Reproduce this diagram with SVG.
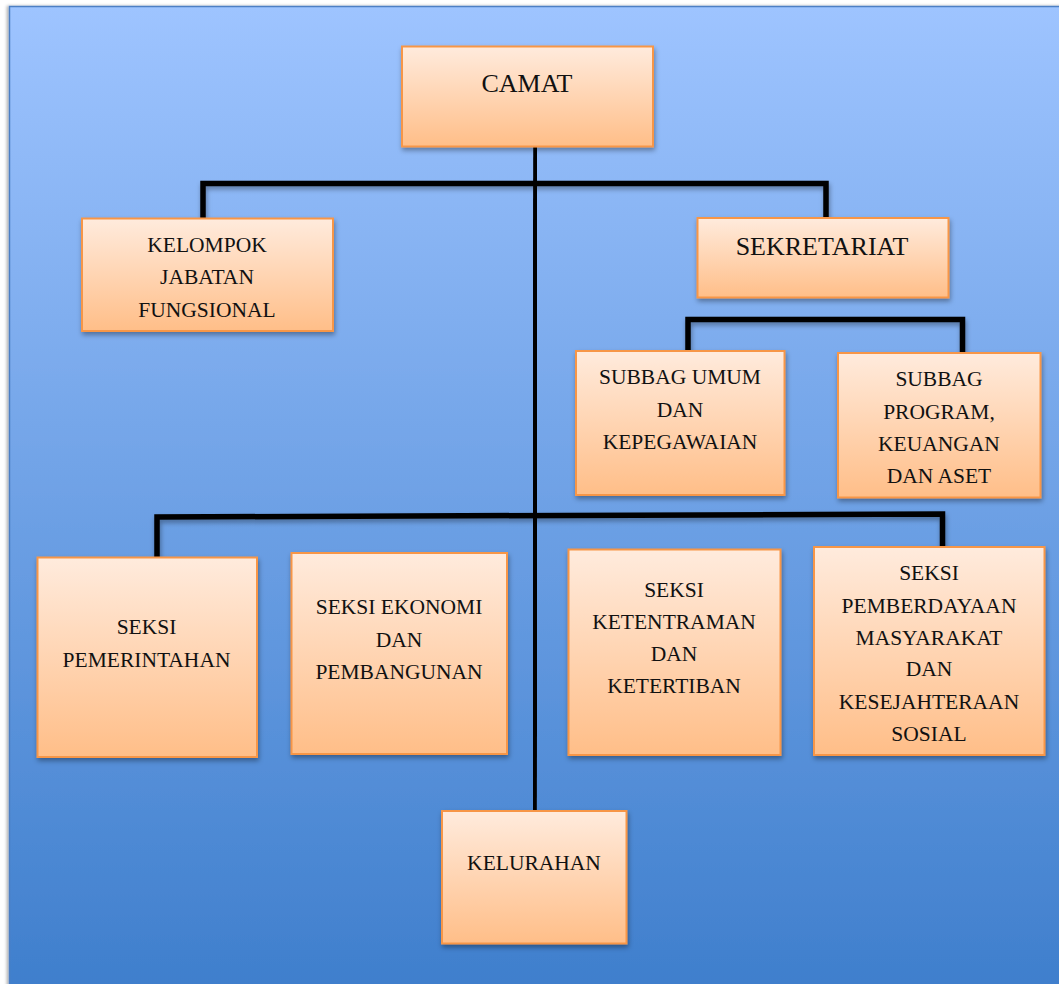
<svg xmlns="http://www.w3.org/2000/svg" width="1059" height="984" viewBox="0 0 1059 984">
  <defs>
    <linearGradient id="bg" x1="0" y1="0" x2="0" y2="1">
      <stop offset="0" stop-color="#9ec4ff"/>
      <stop offset="1" stop-color="#3e7ecc"/>
    </linearGradient>
    <linearGradient id="box" x1="0" y1="0" x2="0" y2="1">
      <stop offset="0" stop-color="#ffebdd"/>
      <stop offset="1" stop-color="#ffbe88"/>
    </linearGradient>
    <filter id="sh" x="-10%" y="-10%" width="130%" height="130%">
      <feDropShadow dx="1" dy="3" stdDeviation="2.5" flood-color="#000" flood-opacity="0.35"/>
    </filter>
    <filter id="bgsh" x="-5%" y="-5%" width="110%" height="110%">
      <feDropShadow dx="-2" dy="0" stdDeviation="1.5" flood-color="#000" flood-opacity="0.3"/>
    </filter>
  </defs>
  <style>
    .node rect { fill: url(#box); stroke: #f79646; stroke-width: 2; filter: url(#sh); }
    .node text { font-family: "Liberation Serif", "Times New Roman", serif; font-size: 21.5px; fill: #111; text-anchor: middle; }
    .node text.big { font-size: 26px; }
    .conn { stroke: #000; stroke-width: 5.5; fill: none; stroke-linecap: square; stroke-linejoin: miter; filter: url(#sh); }
  </style>

  <rect x="0" y="0" width="1059" height="984" fill="#ffffff"/>
  <rect x="9.5" y="6.5" width="1060" height="990" fill="url(#bg)" stroke="#4d7fc4" stroke-width="1.5" filter="url(#bgsh)"/>

  <g id="connectors">
    <path class="conn" d="M536 148 L534 809"/>
    <path class="conn" d="M203 217 L203 183.5 L826 183.5 L826 216"/>
    <path class="conn" d="M828 299 L828 319.5"/>
    <path class="conn" d="M688 350 L688 319.5 L962.5 319.5 L962.5 352"/>
    <path class="conn" d="M157 556 L157 517 L942.5 514 L942.5 545"/>
    <path class="conn" d="M410 552 L410 516.5"/>
    <path class="conn" d="M678.5 548 L678.5 515"/>
  </g>

  <g id="camat" class="node">
    <rect x="402" y="46.5" width="251" height="100"/>
    <text class="big" x="527" y="91.5">CAMAT</text>
  </g>

  <g id="kelompok" class="node">
    <rect x="82" y="218.5" width="251" height="112.5"/>
    <text x="207" y="251.5">KELOMPOK</text>
    <text x="207" y="284">JABATAN</text>
    <text x="207" y="316.5">FUNGSIONAL</text>
  </g>

  <g id="sekretariat" class="node">
    <rect x="697.5" y="218" width="251" height="79.5"/>
    <text class="big" x="822" y="255">SEKRETARIAT</text>
  </g>

  <g id="subbag-umum" class="node">
    <rect x="576" y="351" width="208.5" height="144"/>
    <text x="680" y="384">SUBBAG UMUM</text>
    <text x="680" y="416.5">DAN</text>
    <text x="680" y="449">KEPEGAWAIAN</text>
  </g>

  <g id="subbag-program" class="node">
    <rect x="838" y="353" width="202.5" height="144.5"/>
    <text x="939" y="386">SUBBAG</text>
    <text x="939" y="419">PROGRAM,</text>
    <text x="939" y="450.5">KEUANGAN</text>
    <text x="939" y="483">DAN ASET</text>
  </g>

  <g id="seksi-pemerintahan" class="node">
    <rect x="37.5" y="557.5" width="219.5" height="199.5"/>
    <text x="146.5" y="633.5">SEKSI</text>
    <text x="146.5" y="667">PEMERINTAHAN</text>
  </g>

  <g id="seksi-ekonomi" class="node">
    <rect x="291.5" y="553" width="215.5" height="201"/>
    <text x="399" y="614">SEKSI EKONOMI</text>
    <text x="399" y="647">DAN</text>
    <text x="399" y="679">PEMBANGUNAN</text>
  </g>

  <g id="seksi-ketentraman" class="node">
    <rect x="568.5" y="549.5" width="212" height="205.5"/>
    <text x="674" y="597">SEKSI</text>
    <text x="674" y="629">KETENTRAMAN</text>
    <text x="674" y="661">DAN</text>
    <text x="674" y="693">KETERTIBAN</text>
  </g>

  <g id="seksi-pemberdayaan" class="node">
    <rect x="814" y="547" width="230.5" height="208"/>
    <text x="929" y="580">SEKSI</text>
    <text x="929" y="612.5">PEMBERDAYAAN</text>
    <text x="929" y="644.5">MASYARAKAT</text>
    <text x="929" y="676">DAN</text>
    <text x="929" y="709">KESEJAHTERAAN</text>
    <text x="929" y="740.5">SOSIAL</text>
  </g>

  <g id="kelurahan" class="node">
    <rect x="442" y="811" width="184.5" height="132.5"/>
    <text x="534" y="870">KELURAHAN</text>
  </g>
</svg>
